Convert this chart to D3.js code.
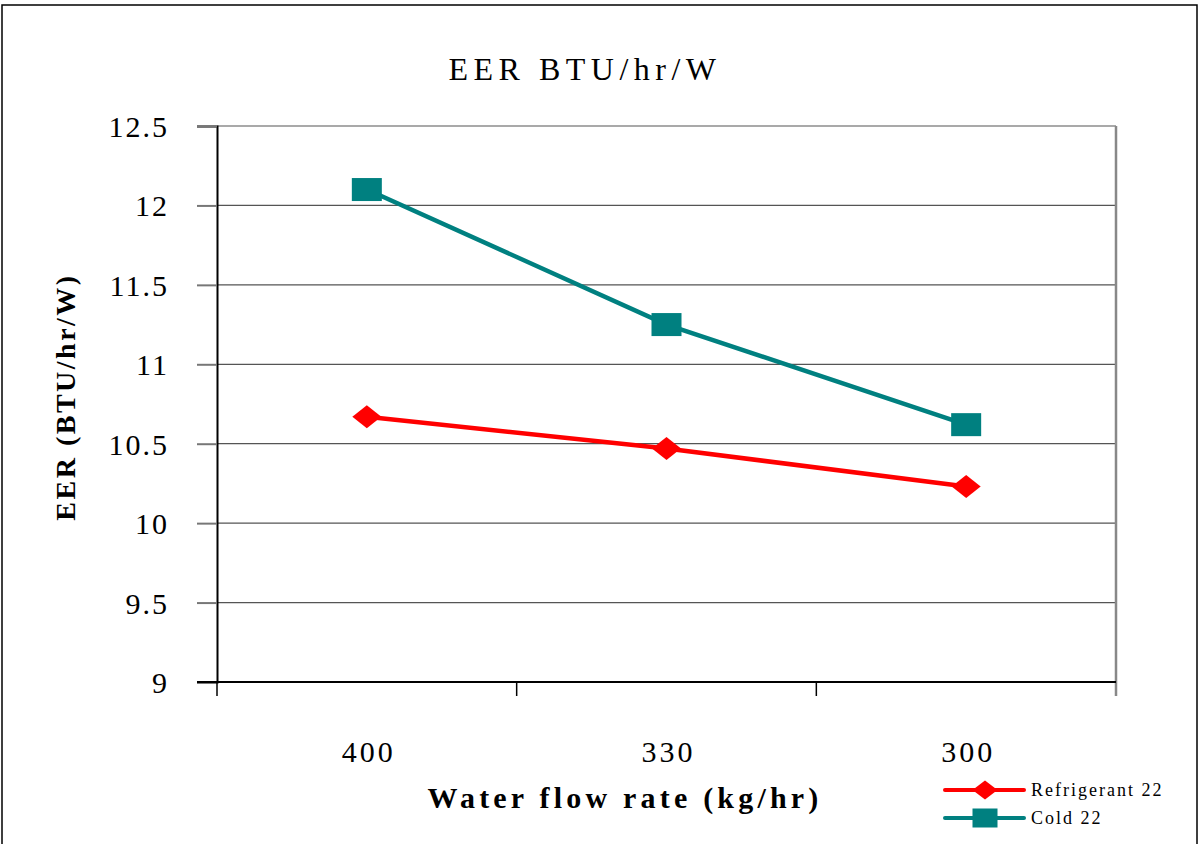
<!DOCTYPE html>
<html><head><meta charset="utf-8">
<script src="https://cdn.jsdelivr.net/npm/d3@7"></script>
<style>body{margin:0;background:#fff}svg{display:block}text{font-family:"Liberation Serif","Times New Roman",serif}</style>
</head><body>
<svg id="c" width="1200" height="844"></svg>
<script>
const categories = ["400", "330", "300"];
const refrigerant22 = [10.67, 10.47, 10.23];
const cold22 = [12.10, 11.25, 10.62];
const yTicks = [9, 9.5, 10, 10.5, 11, 11.5, 12, 12.5];
const seriesNames = ["Refrigerant 22", "Cold 22"];

const svg = d3.select("#c");
const L = 217, R = 1116, T = 126, B = 682;

// outer frame
svg.append("path").attr("d", "M2,844 V5 H1197 V844").attr("fill", "none").attr("stroke", "#000").attr("stroke-width", 1.5);

const x = d3.scaleBand().domain(categories).range([L, R]);
const y = d3.scaleLinear().domain([9, 12.5]).range([B, T]);

// gridlines
svg.append("g").selectAll("line").data(yTicks.filter(d => d > 9)).join("line")
  .attr("x1", L).attr("x2", R).attr("y1", d => y(d)).attr("y2", d => y(d))
  .attr("stroke", "#555").attr("stroke-width", 1.2);

// y axis
const ya = svg.append("g").attr("transform", `translate(${L},0)`)
  .call(d3.axisLeft(y).tickValues(yTicks).tickSize(20).tickPadding(28).tickFormat(d => d));
ya.select(".domain").attr("stroke", "#000").attr("stroke-width", 2);
ya.selectAll(".tick line").attr("stroke", "#777").attr("stroke-width", 2);
ya.selectAll(".tick text").attr("font-size", 30).attr("fill", "#000").attr("letter-spacing", 2).attr("dy", "0.35em");

// right border
svg.append("line").attr("x1", R).attr("x2", R).attr("y1", T).attr("y2", B + 14)
  .attr("stroke", "#888").attr("stroke-width", 2.5);

// x axis
const xa = svg.append("g").attr("transform", `translate(0,${B})`);
xa.append("line").attr("x1", L - 20).attr("x2", R).attr("y1", 0).attr("y2", 0).attr("stroke", "#000").attr("stroke-width", 2);
const bounds = categories.map(c => x(c));
xa.selectAll("line.tk").data(bounds).join("line").attr("class", "tk")
  .attr("x1", d => d).attr("x2", d => d).attr("y1", 0).attr("y2", 14).attr("stroke", "#000").attr("stroke-width", 1.5);
xa.selectAll("text").data(categories).join("text")
  .attr("x", d => x(d) + x.bandwidth() / 2 + 2).attr("y", 80)
  .attr("text-anchor", "middle").attr("font-size", 30).attr("letter-spacing", 3).text(d => d);

// title & axis titles
svg.append("text").attr("x", 585).attr("y", 80).attr("text-anchor", "middle")
  .attr("font-size", 32).attr("letter-spacing", 5.5).text("EER BTU/hr/W");
svg.append("text").attr("transform", "translate(75,397) rotate(-90)").attr("text-anchor", "middle")
  .attr("font-size", 28).attr("font-weight", "bold").attr("letter-spacing", 2.5).text("EER (BTU/hr/W)");
svg.append("text").attr("x", 625).attr("y", 808).attr("text-anchor", "middle")
  .attr("font-size", 30).attr("font-weight", "bold").attr("letter-spacing", 4.2).text("Water flow rate (kg/hr)");

const cx = d => x(d) + x.bandwidth() / 2;
const line = d3.line().x(d => cx(d[0])).y(d => y(d[1]));

function diamond(g, w, h, fill) {
  g.append("path").attr("d", `M0,${-h/2} L${w/2},0 L0,${h/2} L${-w/2},0Z`).attr("fill", fill);
}
function square(g, w, h, fill) {
  g.append("rect").attr("x", -w/2).attr("y", -h/2).attr("width", w).attr("height", h).attr("fill", fill);
}

const red = "#ff0000", teal = "#008080";
svg.append("path").datum(categories.map((c, i) => [c, cold22[i]])).attr("d", line)
  .attr("fill", "none").attr("stroke", teal).attr("stroke-width", 4.5);
svg.append("path").datum(categories.map((c, i) => [c, refrigerant22[i]])).attr("d", line)
  .attr("fill", "none").attr("stroke", red).attr("stroke-width", 4.5);

categories.forEach((c, i) => {
  square(svg.append("g").attr("transform", `translate(${cx(c)},${y(cold22[i])})`), 30, 23, teal);
  diamond(svg.append("g").attr("transform", `translate(${cx(c)},${y(refrigerant22[i])})`), 29, 23, red);
});

// legend
const lg = svg.append("g");
[[red, diamond, 790], [teal, square, 818]].forEach(([col, fn, ly], i) => {
  lg.append("line").attr("x1", 945).attr("x2", 1024).attr("y1", ly).attr("y2", ly)
    .attr("stroke", col).attr("stroke-width", 4).attr("stroke-linecap", "round");
  const g = lg.append("g").attr("transform", `translate(985,${ly})`);
  if (fn === diamond) diamond(g, 25, 19, col); else square(g, 25, 19, col);
  lg.append("text").attr("x", 1031).attr("y", ly + 6).attr("font-size", 18).attr("letter-spacing", 2).text(seriesNames[i]);
});
</script>
</body></html>
